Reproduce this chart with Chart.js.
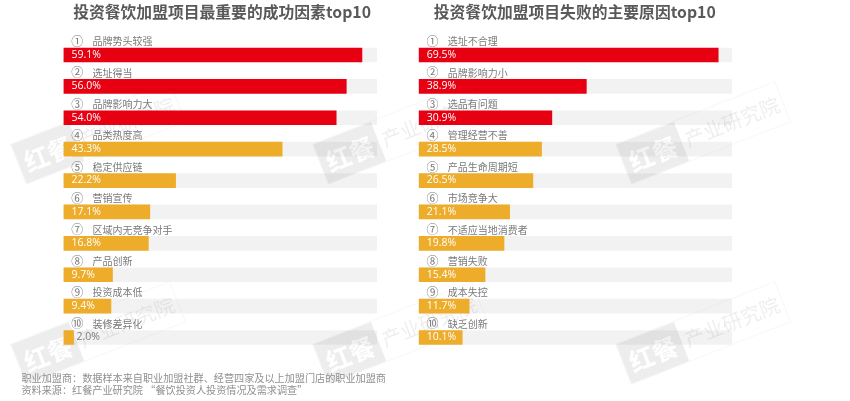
<!DOCTYPE html>
<html lang="zh">
<head>
<meta charset="utf-8">
<script src="https://cdn.jsdelivr.net/npm/chart.js@4/dist/chart.umd.min.js"></script>
<style>
html,body{margin:0;padding:0;background:#fff;width:850px;height:401px;overflow:hidden}
#wrap{position:relative;width:850px;height:401px;filter:blur(0.45px)}
canvas{position:absolute;top:0}
.note{position:absolute;left:21.5px;font:10.15px "Noto Sans CJK SC",sans-serif;color:#8f8f8f;white-space:nowrap;line-height:13px}
.wm{position:absolute;width:172px;height:44px;transform:rotate(-21.5deg);pointer-events:none;display:flex;font-family:"Noto Sans CJK SC",sans-serif;box-sizing:border-box;border:1px solid rgba(0,0,0,.035)}
.wm b{display:block;width:62px;height:42px;background:rgba(0,0,0,.07);color:#fff;font-size:25px;line-height:42px;text-align:center;font-weight:700}
.wm span{flex:1;color:rgba(0,0,0,.07);font-size:20px;line-height:42px;text-align:center;white-space:nowrap}
</style>
</head>
<body>
<div id="wrap">
<canvas id="left" width="425" height="401" style="left:0"></canvas>
<canvas id="right" width="450" height="401" style="left:400px"></canvas>
<div class="note" style="top:371px">职业加盟商：数据样本来自职业加盟社群、经营四家及以上加盟门店的职业加盟商</div>
<div class="note" style="top:383.4px">资料来源：红餐产业研究院 “餐饮投资人投资情况及需求调查”</div>
</div>
<script>
const ranks = ["①","②","③","④","⑤","⑥","⑦","⑧","⑨","⑩"];
const leftTitle = "投资餐饮加盟项目最重要的成功因素top10";
const leftCategories = ["品牌势头较强","选址得当","品牌影响力大","品类热度高","稳定供应链","营销宣传","区域内无竞争对手","产品创新","投资成本低","装修差异化"];
const leftValues = [59.1,56.0,54.0,43.3,22.2,17.1,16.8,9.7,9.4,2.0];
const leftAxisMax = 62.08;
const rightTitle = "投资餐饮加盟项目失败的主要原因top10";
const rightCategories = ["选址不合理","品牌影响力小","选品有问题","管理经营不善","产品生命周期短","市场竞争大","不适应当地消费者","营销失败","成本失控","缺乏创新"];
const rightValues = [69.5,38.9,30.9,28.5,26.5,21.1,19.8,15.4,11.7,10.1];
const rightAxisMax = 72.7;

const RED="#E60012",ORANGE="#EEAC2B",TRACK="rgba(0,0,0,.052)",GREY="#7a7a7a";
const CJK='"Noto Sans CJK SC",sans-serif';

const rowText={
  id:"rowText",
  afterDatasetsDraw(chart,args,opts){
    const {ctx,scales:{x,y}}=chart;
    const x0=x.getPixelForValue(0);
    ctx.save();
    ctx.textBaseline="middle";
    ctx.textAlign="center";
    ctx.fillStyle="#595959";
    ctx.font="bold 15.8px "+CJK;
    ctx.fillText(opts.title,(x.left+x.right)/2+opts.titleShift,12);
    opts.values.forEach((v,i)=>{
      const cy=y.getPixelForValue(i);
      ctx.textAlign="left";
      ctx.fillStyle=GREY;
      ctx.font="12px "+CJK;
      ctx.fillText(ranks[i],x0+7.7,cy-13.6);
      ctx.font="10px "+CJK;
      ctx.fillText(opts.categories[i],x0+29,cy-13.6);
      ctx.font='10.5px "Open Sans",sans-serif';
      const inside=v>5;
      ctx.fillStyle=inside?"#fff":GREY;
      ctx.fillText(v.toFixed(1)+"%",inside?x0+8:x.getPixelForValue(v)+3,cy-0.1);
    });
    ctx.restore();
  }
};

function draw(id,title,titleShift,categories,values,axisMax,padL,padR){
  new Chart(document.getElementById(id),{
    type:"bar",
    plugins:[rowText],
    data:{labels:categories,datasets:[
      {data:values,order:1,grouped:false,barThickness:14,
       backgroundColor:c=>c.dataIndex<3?RED:ORANGE},
      {data:values.map(()=>axisMax),order:2,grouped:false,barThickness:14,backgroundColor:TRACK}
    ]},
    options:{
      indexAxis:"y",responsive:false,animation:false,
      layout:{padding:{left:padL,right:padR,top:39.3,bottom:47.8}},
      scales:{
        x:{display:false,min:0,max:axisMax},
        y:{display:false}
      },
      plugins:{
        legend:{display:false},tooltip:{enabled:false},title:{display:false},
        rowText:{title,titleShift,categories,values}
      }
    }
  });
}
draw("left",leftTitle,1.8,leftCategories,leftValues,leftAxisMax,63.5,48);
draw("right",rightTitle,-0.6,rightCategories,rightValues,rightAxisMax,18.7,118);

const wrap=document.getElementById("wrap");
[[98,133],[400,133],[703,133],[98,333],[400,333],[703,333]].forEach(([cx,cy])=>{
  const d=document.createElement("div");
  d.className="wm";
  d.style.left=(cx-86)+"px";
  d.style.top=(cy-22)+"px";
  d.innerHTML="<b>红餐</b><span>产业研究院</span>";
  wrap.insertBefore(d,wrap.firstChild);
});
</script>
</body>
</html>
